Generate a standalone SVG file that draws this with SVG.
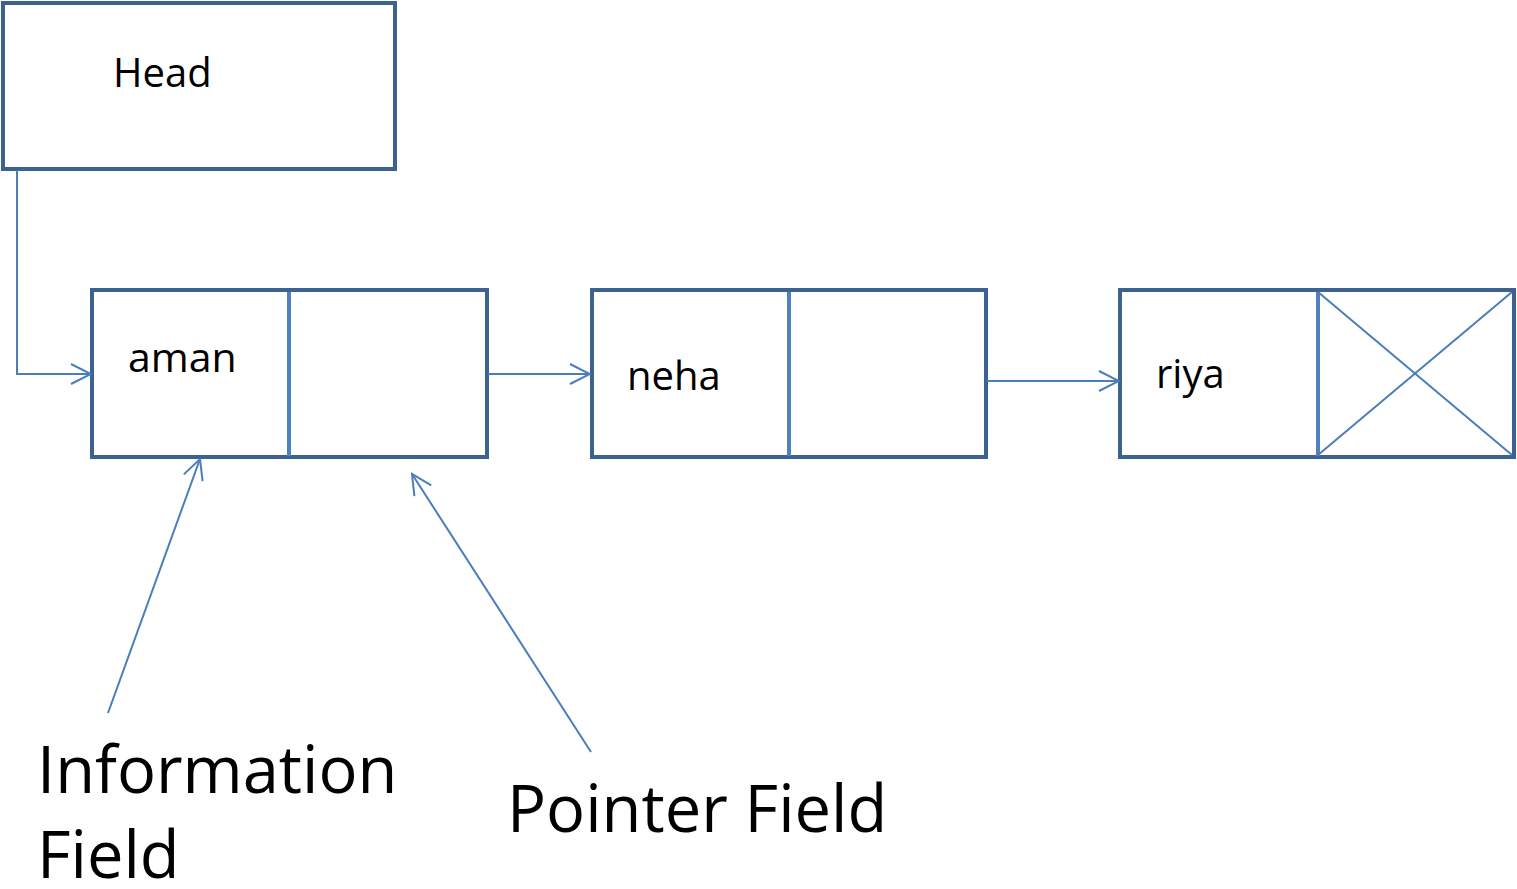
<svg xmlns="http://www.w3.org/2000/svg" width="1517" height="889" viewBox="0 0 1517 889">
  <style>
    .box { fill: #ffffff; stroke: #3c6291; stroke-width: 4; }
    .div { stroke: #4f81bd; stroke-width: 4; }
    .wire { fill: none; stroke: #4a7ebb; stroke-width: 2; }
    .lbl { font-family: "Open Sans", "Liberation Sans", sans-serif; fill: #000000; }
  </style>
  <defs>
    <marker id="arrow" viewBox="0 0 24 24" refX="22" refY="12" markerWidth="24" markerHeight="24" markerUnits="userSpaceOnUse" orient="auto">
      <path d="M2 2 L22 12 L2 22" fill="none" stroke="#4a7ebb" stroke-width="2"/>
    </marker>
  </defs>

  <rect width="1517" height="889" fill="#ffffff"/>

  <g id="head">
    <rect class="box" x="3" y="3" width="392" height="166"/>
    <text class="lbl" x="113" y="87" font-size="40">Head</text>
  </g>

  <g id="node-aman">
    <rect class="box" x="92" y="290" width="395" height="167"/>
    <line class="div" x1="289" y1="292" x2="289" y2="456"/>
    <text class="lbl" x="128" y="372" font-size="41">aman</text>
  </g>

  <g id="node-neha">
    <rect class="box" x="592" y="290" width="394" height="167"/>
    <line class="div" x1="789" y1="292" x2="789" y2="456"/>
    <text class="lbl" x="627" y="390" font-size="40">neha</text>
  </g>

  <g id="node-riya">
    <rect class="box" x="1120" y="290" width="394" height="167"/>
    <line class="div" x1="1318" y1="292" x2="1318" y2="456"/>
    <line class="wire" x1="1318" y1="292" x2="1512" y2="455"/>
    <line class="wire" x1="1318" y1="455" x2="1512" y2="292"/>
    <text class="lbl" x="1156" y="388" font-size="40">riya</text>
  </g>

  <g id="connectors">
    <path class="wire" d="M17 170 V374 H91" marker-end="url(#arrow)"/>
    <path class="wire" d="M488 374 H590" marker-end="url(#arrow)"/>
    <path class="wire" d="M987 381 H1119" marker-end="url(#arrow)"/>
    <path class="wire" d="M108 713 L200 459" marker-end="url(#arrow)"/>
    <path class="wire" d="M591 752 L412 474" marker-end="url(#arrow)"/>
  </g>

  <g id="labels">
    <text class="lbl" x="37" y="793" font-size="65">Information</text>
    <text class="lbl" x="37" y="878" font-size="65">Field</text>
    <text class="lbl" x="507" y="832" font-size="65">Pointer Field</text>
  </g>
</svg>
